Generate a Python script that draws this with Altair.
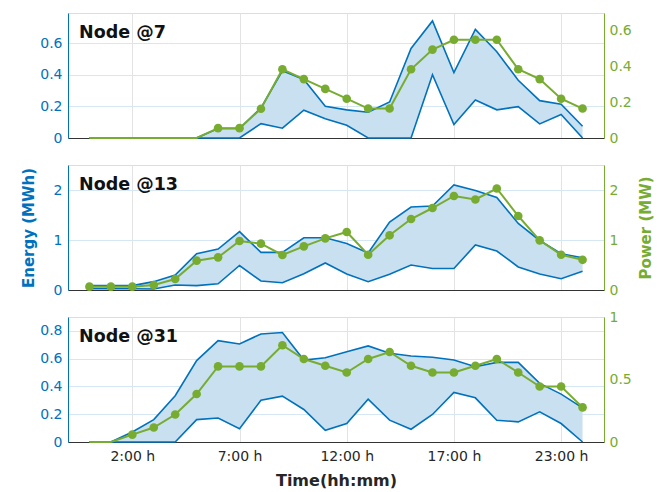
import altair as alt
import pandas as pd

hours = list(range(24))
tick_values = [2, 7, 12, 17, 22]
tick_labels = ["2:00 h", "7:00 h", "12:00 h", "17:00 h", "23:00 h"]
node_names = ["Node @7", "Node @13", "Node @31"]

upper7 = [0, 0, 0, 0, 0, 0, 0.06, 0.06, 0.19, 0.425, 0.37, 0.2, 0.178, 0.163, 0.228, 0.566,
          0.74, 0.414, 0.686, 0.545, 0.365, 0.236, 0.214, 0.074]
lower7 = [0, 0, 0, 0, 0, 0, 0, 0, 0.091, 0.062, 0.176, 0.121, 0.08, 0, 0, 0,
          0.40, 0.085, 0.24, 0.178, 0.198, 0.089, 0.149, 0]
power7 = [0, 0, 0, 0, 0, 0, 0.055, 0.055, 0.164, 0.385, 0.33, 0.275, 0.22, 0.165, 0.165, 0.385,
          0.495, 0.55, 0.55, 0.55, 0.385, 0.33, 0.22, 0.165]

upper13 = [0.087, 0.087, 0.087, 0.167, 0.30, 0.727, 0.82, 1.167, 0.753, 0.753, 1.045, 1.045,
           0.93, 0.74, 1.36, 1.66, 1.68, 2.1, 1.99, 1.85, 1.33, 0.99, 0.725, 0.644]
lower13 = [0.025, 0.025, 0.025, 0.02, 0.1, 0.087, 0.125, 0.49, 0.18, 0.145, 0.325, 0.54,
           0.32, 0.165, 0.315, 0.5, 0.43, 0.43, 0.9, 0.78, 0.46, 0.32, 0.225, 0.375]
power13 = [0.067, 0.067, 0.067, 0.1, 0.22, 0.587, 0.653, 0.98, 0.927, 0.70, 0.873, 1.033,
           1.16, 0.705, 1.094, 1.42, 1.64, 1.88, 1.81, 2.03, 1.48, 0.993, 0.705, 0.604]

upper31 = [0, 0, 0.072, 0.161, 0.333, 0.586, 0.73, 0.706, 0.778, 0.788, 0.59, 0.607,
           0.65, 0.692, 0.639, 0.619, 0.61, 0.59, 0.542, 0.573, 0.573, 0.422, 0.345, 0.246]
lower31 = [0, 0, 0, 0, 0, 0.161, 0.173, 0.096, 0.30, 0.33, 0.234, 0.084,
           0.133, 0.308, 0.157, 0.092, 0.198, 0.357, 0.318, 0.157, 0.145, 0.217, 0.133, 0]
power31 = [0, 0, 0.059, 0.116, 0.22, 0.384, 0.605, 0.605, 0.605, 0.774, 0.664, 0.61,
           0.556, 0.664, 0.72, 0.61, 0.556, 0.556, 0.61, 0.664, 0.556, 0.444, 0.444, 0.277]

uppers = [upper7, upper13, upper31]
lowers = [lower7, lower13, lower31]
powers = [power7, power13, power31]

left_max = [0.79, 2.5, 0.9]
right_max = [0.7, 2.5, 1.0]
left_ticks = [[0, 0.2, 0.4, 0.6], [0, 1, 2], [0, 0.2, 0.4, 0.6, 0.8]]
right_ticks = [[0, 0.2, 0.4, 0.6], [0, 1, 2], [0, 0.5, 1]]

BLUE = "#0072BD"
FILL = "#C9E0F1"
GREEN = "#77AC30"
FONT = "DejaVu Sans"
W, H = 536, 125

label_expr = ""
for v, l in zip(tick_values, tick_labels):
    label_expr += f"datum.value == {v} ? '{l}' : "
label_expr += "''"


def panel(i, show_x):
    df = pd.DataFrame({"h": hours, "upper": uppers[i], "lower": lowers[i], "power": powers[i]})
    base = alt.Chart(df)
    x_axis = alt.Axis(values=tick_values, labelExpr=label_expr, grid=True, gridColor="#e3e3e3",
                      labels=show_x, ticks=False, domainColor="#333333", labelFontSize=14,
                      labelColor="#262626", labelPadding=7, labelFont=FONT,
                      title="Time(hh:mm)" if show_x else None, titleFontSize=16,
                      titleFontWeight="bold", titleColor="#262626", titleFont=FONT,
                      titleY=38, titleBaseline="middle")
    xenc = alt.X("h:Q", scale=alt.Scale(domain=[-1, 24], nice=False, zero=False), axis=x_axis)
    yl_scale = alt.Scale(domain=[0, left_max[i]], nice=False)
    yl_axis = alt.Axis(values=left_ticks[i], format="~g", orient="left", grid=True,
                       gridColor="#d6e7f4", domainColor=BLUE, labelColor=BLUE, ticks=False,
                       labelFontSize=14, labelPadding=6, labelFont=FONT,
                       title="Energy (MWh)" if i == 1 else None, titleColor=BLUE,
                       titleFontSize=15, titleFontWeight="bold", titleFont=FONT,
                       titleX=-40, titleBaseline="middle", titleAngle=270)
    area = base.mark_area(color=FILL, opacity=1).encode(
        x=xenc, y=alt.Y("upper:Q", scale=yl_scale, axis=yl_axis), y2="lower:Q")
    up = base.mark_line(color=BLUE, strokeWidth=1.6).encode(
        x=xenc, y=alt.Y("upper:Q", scale=yl_scale, axis=yl_axis))
    lo = base.mark_line(color=BLUE, strokeWidth=1.6).encode(
        x=xenc, y=alt.Y("lower:Q", scale=yl_scale, axis=yl_axis))
    label = alt.Chart(pd.DataFrame({"name": [node_names[i]]})).mark_text(
        align="left", baseline="middle", font=FONT, fontSize=17.5, fontWeight="bold",
        color="#111111").encode(text="name:N", x=alt.value(11), y=alt.value(20))
    left = alt.layer(area, up, lo, label)

    yr_scale = alt.Scale(domain=[0, right_max[i]], nice=False)
    yr_axis = alt.Axis(values=right_ticks[i], format="~g", orient="right", grid=False,
                       domainColor=GREEN, labelColor=GREEN, ticks=False, labelFontSize=14,
                       labelPadding=5, labelFont=FONT,
                       title="Power (MW)" if i == 1 else None, titleColor=GREEN,
                       titleFontSize=15, titleFontWeight="bold", titleFont=FONT,
                       titleX=41, titleBaseline="middle", titleAngle=270)
    pline = base.mark_line(color=GREEN, strokeWidth=2).encode(
        x=xenc, y=alt.Y("power:Q", scale=yr_scale, axis=yr_axis))
    ppts = base.transform_filter("datum.power > 0").mark_point(
        filled=True, color=GREEN, size=75, opacity=1).encode(
        x=xenc, y=alt.Y("power:Q", scale=yr_scale, axis=yr_axis))
    right = alt.layer(pline, ppts)
    return alt.layer(left, right).resolve_scale(y="independent").properties(width=W, height=H)


chart = alt.vconcat(panel(0, False), panel(1, False), panel(2, True),
                    spacing=27, bounds="flush").properties(
    padding={"left": 12, "top": 4, "right": 5, "bottom": 0}
).configure_view(stroke="#333333", strokeWidth=1).configure(background="white")

chart.save("out.html", embed_options={"renderer": "svg", "actions": False})
